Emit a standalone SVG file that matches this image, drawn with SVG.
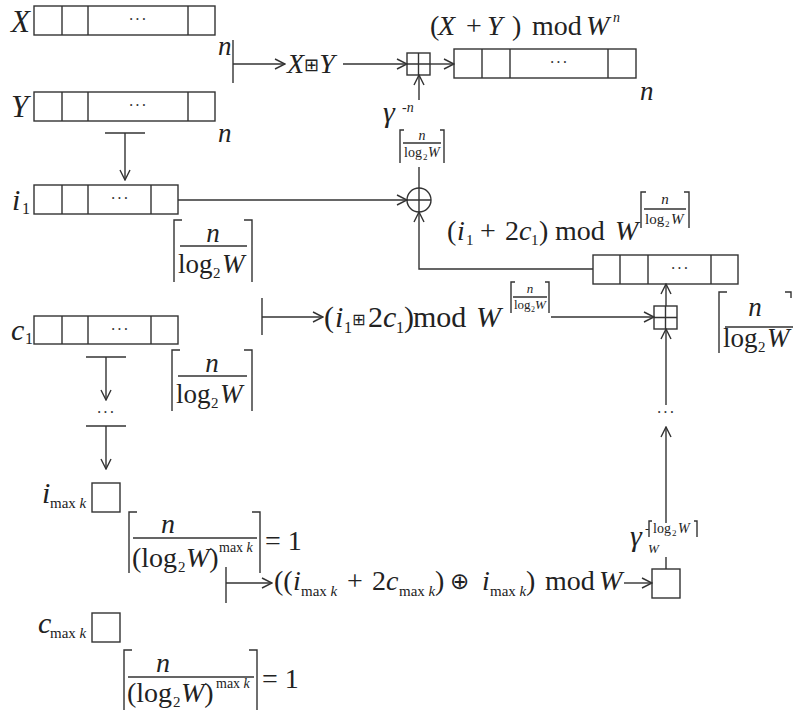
<svg xmlns="http://www.w3.org/2000/svg" width="793" height="710" viewBox="0 0 793 710">
<defs>
<style>
.t{font-family:"Liberation Serif","DejaVu Serif",serif;fill:#222}
.i{font-style:italic}
.s{font-family:"DejaVu Sans",sans-serif}
.ln{stroke:#333;stroke-width:1.4;fill:none}
.box{fill:#fff;stroke:#333;stroke-width:1.4}
.dots{font-family:"Liberation Serif",serif;font-size:16px;fill:#333;text-anchor:middle;letter-spacing:1px}
</style>
<marker id="ah" markerUnits="userSpaceOnUse" markerWidth="12" markerHeight="12" refX="11" refY="6" orient="auto"><path d="M1,1 L11,6 L1,11" fill="none" stroke="#333" stroke-width="1.4"/></marker>
</defs>
<rect width="793" height="710" fill="#fff"/>

<g id="nodeX">
<text class="t i" x="11" y="32" font-size="31">X</text>
<rect class="box" x="34" y="6" width="181" height="29"/>
<path class="ln" d="M62,6V35M88,6V35M188,6V35"/>
<text class="dots" x="138" y="25">···</text>
<text class="t i" x="218" y="55" font-size="27">n</text>
</g>

<g id="nodeY">
<text class="t i" x="11" y="117" font-size="31">Y</text>
<rect class="box" x="34" y="92" width="181" height="29"/>
<path class="ln" d="M62,92V121M88,92V121M188,92V121"/>
<text class="dots" x="138" y="111">···</text>
<text class="t i" x="218" y="142" font-size="27">n</text>
</g>

<g id="nodeXplusY">
<text class="t" x="287" y="73" font-size="28"><tspan class="i">X</tspan><tspan class="s" font-size="18" dy="-2">⊞</tspan><tspan class="i" dy="2">Y</tspan></text>
</g>

<g id="nodeAddTop">
<rect class="box" x="407" y="53" width="23" height="22"/>
<path class="ln" d="M418.5,53V75M407,64H430"/>
</g>

<g id="nodeOut">
<text class="t" y="35" font-size="28"><tspan x="430">(</tspan><tspan class="i" x="438">X</tspan><tspan x="466">+</tspan><tspan class="i" x="487">Y</tspan><tspan x="512">)</tspan><tspan x="532">mod</tspan><tspan class="i" x="586">W</tspan></text>
<text class="t i" x="613" y="22" font-size="14">n</text>
<rect class="box" x="454" y="49" width="182" height="29"/>
<path class="ln" d="M482,49V78M510,49V78M608,49V78"/>
<text class="dots" x="559" y="68">···</text>
<text class="t i" x="640" y="100" font-size="27">n</text>
</g>

<g id="gammaTop">
<text class="t i" x="383" y="122" font-size="30">γ</text>
<text class="t i" x="402" y="112" font-size="14">-n</text>
<path class="ln" d="M404,130H400V163M440,130H444V163M403,143H441" stroke-width="1.1"/>
<text class="t i" x="422" y="140" font-size="14" text-anchor="middle">n</text>
<text class="t" x="404" y="157" font-size="14">log</text>
<text class="t" x="423" y="160" font-size="9">2</text>
<text class="t i" x="428" y="157" font-size="14">W</text>
</g>

<g id="nodeI1">
<text class="t i" x="12" y="210" font-size="30">i</text>
<text class="t" x="22" y="214" font-size="16">1</text>
<rect class="box" x="34" y="185" width="144" height="29"/>
<path class="ln" d="M62,185V214M88,185V214M151,185V214"/>
<text class="dots" x="120" y="204">···</text>
<path class="ln" d="M182,220H174V282M244,220H252V282M180,246H247"/>
<text class="t i" x="213" y="242" font-size="27" text-anchor="middle">n</text>
<text class="t" x="178" y="273" font-size="27">log</text>
<text class="t" x="213" y="278" font-size="15">2</text>
<text class="t i" x="222" y="273" font-size="27">W</text>
</g>

<g id="nodeXor">
<circle cx="419" cy="200" r="12" fill="#fff" stroke="#333" stroke-width="1.4"/>
<path class="ln" d="M407,200H431M419,188V212"/>
</g>

<g id="labelI1c1">
<text class="t" y="240" font-size="28"><tspan x="447">(</tspan><tspan class="i" x="457">i</tspan><tspan x="480">+</tspan><tspan x="505">2</tspan><tspan class="i" x="519">c</tspan><tspan x="539">)</tspan><tspan x="555">mod</tspan><tspan class="i" x="615">W</tspan></text>
<text class="t" x="466" y="245" font-size="15">1</text>
<text class="t" x="531" y="245" font-size="15">1</text>
<path class="ln" d="M646,192H641V228M684,192H689V228M644,209H686" stroke-width="1.1"/>
<text class="t i" x="665" y="204" font-size="15" text-anchor="middle">n</text>
<text class="t" x="645" y="224" font-size="15">log</text>
<text class="t" x="665" y="227" font-size="9">2</text>
<text class="t i" x="671" y="224" font-size="15">W</text>
</g>

<g id="nodeRight">
<rect class="box" x="593" y="255" width="145" height="29"/>
<path class="ln" d="M620,255V284M648,255V284M711,255V284"/>
<text class="dots" x="680" y="274">···</text>
<path class="ln" d="M727,292H719V353M785,292H791V298M725,327H793"/>
<text class="t i" x="755" y="316" font-size="27" text-anchor="middle">n</text>
<text class="t" x="723" y="347" font-size="27">log</text>
<text class="t" x="758" y="352" font-size="15">2</text>
<text class="t i" x="767" y="347" font-size="27">W</text>
</g>

<g id="nodeAddRight">
<rect class="box" x="654" y="306" width="23" height="23"/>
<path class="ln" d="M665.5,306V329M654,317.5H677"/>
</g>

<g id="labelI1plusC1">
<text class="t" y="327" font-size="30"><tspan x="324">(</tspan><tspan class="i" x="335">i</tspan><tspan class="s" font-size="16" x="352" dy="-2">⊞</tspan><tspan x="368" dy="2">2</tspan><tspan class="i" x="383">c</tspan><tspan x="404">)</tspan><tspan x="413">mod</tspan><tspan class="i" x="476">W</tspan></text>
<text class="t" x="344" y="333" font-size="16">1</text>
<text class="t" x="396" y="333" font-size="16">1</text>
<path class="ln" d="M515,282H511V313M545,282H549V313M513,297H547" stroke-width="1.1"/>
<text class="t i" x="530" y="293" font-size="13" text-anchor="middle">n</text>
<text class="t" x="514" y="309" font-size="13">log</text>
<text class="t" x="531" y="312" font-size="8">2</text>
<text class="t i" x="535" y="309" font-size="13">W</text>
</g>

<g id="nodeC1">
<text class="t i" x="11" y="340" font-size="30">c</text>
<text class="t" x="25" y="344" font-size="16">1</text>
<rect class="box" x="34" y="316" width="144" height="28"/>
<path class="ln" d="M62,316V344M88,316V344M151,316V344"/>
<text class="dots" x="120" y="335">···</text>
<path class="ln" d="M180,350H172V411M244,350H252V411M178,376H247"/>
<text class="t i" x="212" y="372" font-size="27" text-anchor="middle">n</text>
<text class="t" x="176" y="403" font-size="27">log</text>
<text class="t" x="211" y="408" font-size="15">2</text>
<text class="t i" x="220" y="403" font-size="27">W</text>
</g>

<g id="dotsLeft"><text class="dots" x="106" y="418">···</text></g>

<g id="nodeImax">
<text class="t i" x="42" y="503" font-size="30">i</text>
<text class="t" x="50" y="508" font-size="15">max <tspan class="i">k</tspan></text>
<rect class="box" x="92" y="483" width="28" height="29"/>
<path class="ln" d="M137,512H129V573M252,512H260V573M133,538H257"/>
<text class="t i" x="168" y="533" font-size="28" text-anchor="middle">n</text>
<text class="t" x="132" y="567" font-size="28">(log</text>
<text class="t" x="178" y="572" font-size="15">2</text>
<text class="t" x="186" y="567" font-size="28"><tspan class="i">W</tspan>)</text>
<text class="t" x="219" y="552" font-size="14">max <tspan class="i">k</tspan></text>
<text class="t" x="265" y="550" font-size="28">= 1</text>
</g>

<g id="labelFinal">
<text class="t" y="590" font-size="28"><tspan x="274">((</tspan><tspan class="i" x="293">i</tspan><tspan x="347">+</tspan><tspan x="372">2</tspan><tspan class="i" x="386">c</tspan><tspan x="435">)</tspan><tspan class="s" font-size="23" x="450" dy="-1">⊕</tspan><tspan class="i" x="482" dy="1">i</tspan><tspan x="526">)</tspan><tspan x="545">mod</tspan><tspan class="i" x="599">W</tspan></text>
<text class="t" x="301" y="596" font-size="15">max <tspan class="i">k</tspan></text>
<text class="t" x="399" y="596" font-size="15">max <tspan class="i">k</tspan></text>
<text class="t" x="490" y="596" font-size="15">max <tspan class="i">k</tspan></text>
</g>

<g id="nodeCmax">
<text class="t i" x="38" y="633" font-size="30">c</text>
<text class="t" x="50" y="638" font-size="15">max <tspan class="i">k</tspan></text>
<rect class="box" x="92" y="613" width="28" height="29"/>
<path class="ln" d="M132,650H124V712M249,650H257V712M128,677H254"/>
<text class="t i" x="163" y="672" font-size="28" text-anchor="middle">n</text>
<text class="t" x="127" y="702" font-size="28">(log</text>
<text class="t" x="173" y="707" font-size="15">2</text>
<text class="t" x="181" y="702" font-size="28"><tspan class="i">W</tspan>)</text>
<text class="t" x="216" y="688" font-size="14">max <tspan class="i">k</tspan></text>
<text class="t" x="262" y="688" font-size="28">= 1</text>
</g>

<g id="nodeFinal">
<rect class="box" x="652" y="569" width="28" height="29"/>
<text class="t i" x="630" y="546" font-size="30">γ</text>
<text class="t i" x="648" y="553" font-size="13">W</text>
<text class="t" x="645" y="533" font-size="13">-</text>
<path class="ln" d="M652,521H649V537M694,521H697V537" stroke-width="1.1"/>
<text class="t" x="653" y="533" font-size="14">log</text>
<text class="t" x="672" y="536" font-size="9">2</text>
<text class="t i" x="678" y="533" font-size="14">W</text>
</g>

<g id="dotsRight"><text class="dots" x="666" y="418">···</text></g>

<g id="connectors">
<path class="ln" d="M233,40V83"/>
<path class="ln" d="M233,64H285" marker-end="url(#ah)"/>
<path class="ln" d="M343,64H407" marker-end="url(#ah)"/>
<path class="ln" d="M430,64H454" marker-end="url(#ah)"/>
<path class="ln" d="M419,100V75" marker-end="url(#ah)"/>
<path class="ln" d="M419,167V188"/>
<path class="ln" d="M105,133H145"/>
<path class="ln" d="M125,133V180" marker-end="url(#ah)"/>
<path class="ln" d="M178,200H407" marker-end="url(#ah)"/>
<path class="ln" d="M593,269H419V212" marker-end="url(#ah)"/>
<path class="ln" d="M262,298V335"/>
<path class="ln" d="M262,317H323" marker-end="url(#ah)"/>
<path class="ln" d="M551,317H654" marker-end="url(#ah)"/>
<path class="ln" d="M666,306V284" marker-end="url(#ah)"/>
<path class="ln" d="M666,405V329" marker-end="url(#ah)"/>
<path class="ln" d="M666,523V427" marker-end="url(#ah)"/>
<path class="ln" d="M666,557V569"/>
<path class="ln" d="M86,357H126"/>
<path class="ln" d="M106,357V400" marker-end="url(#ah)"/>
<path class="ln" d="M86,426H126"/>
<path class="ln" d="M106,426V469" marker-end="url(#ah)"/>
<path class="ln" d="M226,567V603"/>
<path class="ln" d="M226,583H272" marker-end="url(#ah)"/>
<path class="ln" d="M624,583H652" marker-end="url(#ah)"/>
</g>
</svg>
